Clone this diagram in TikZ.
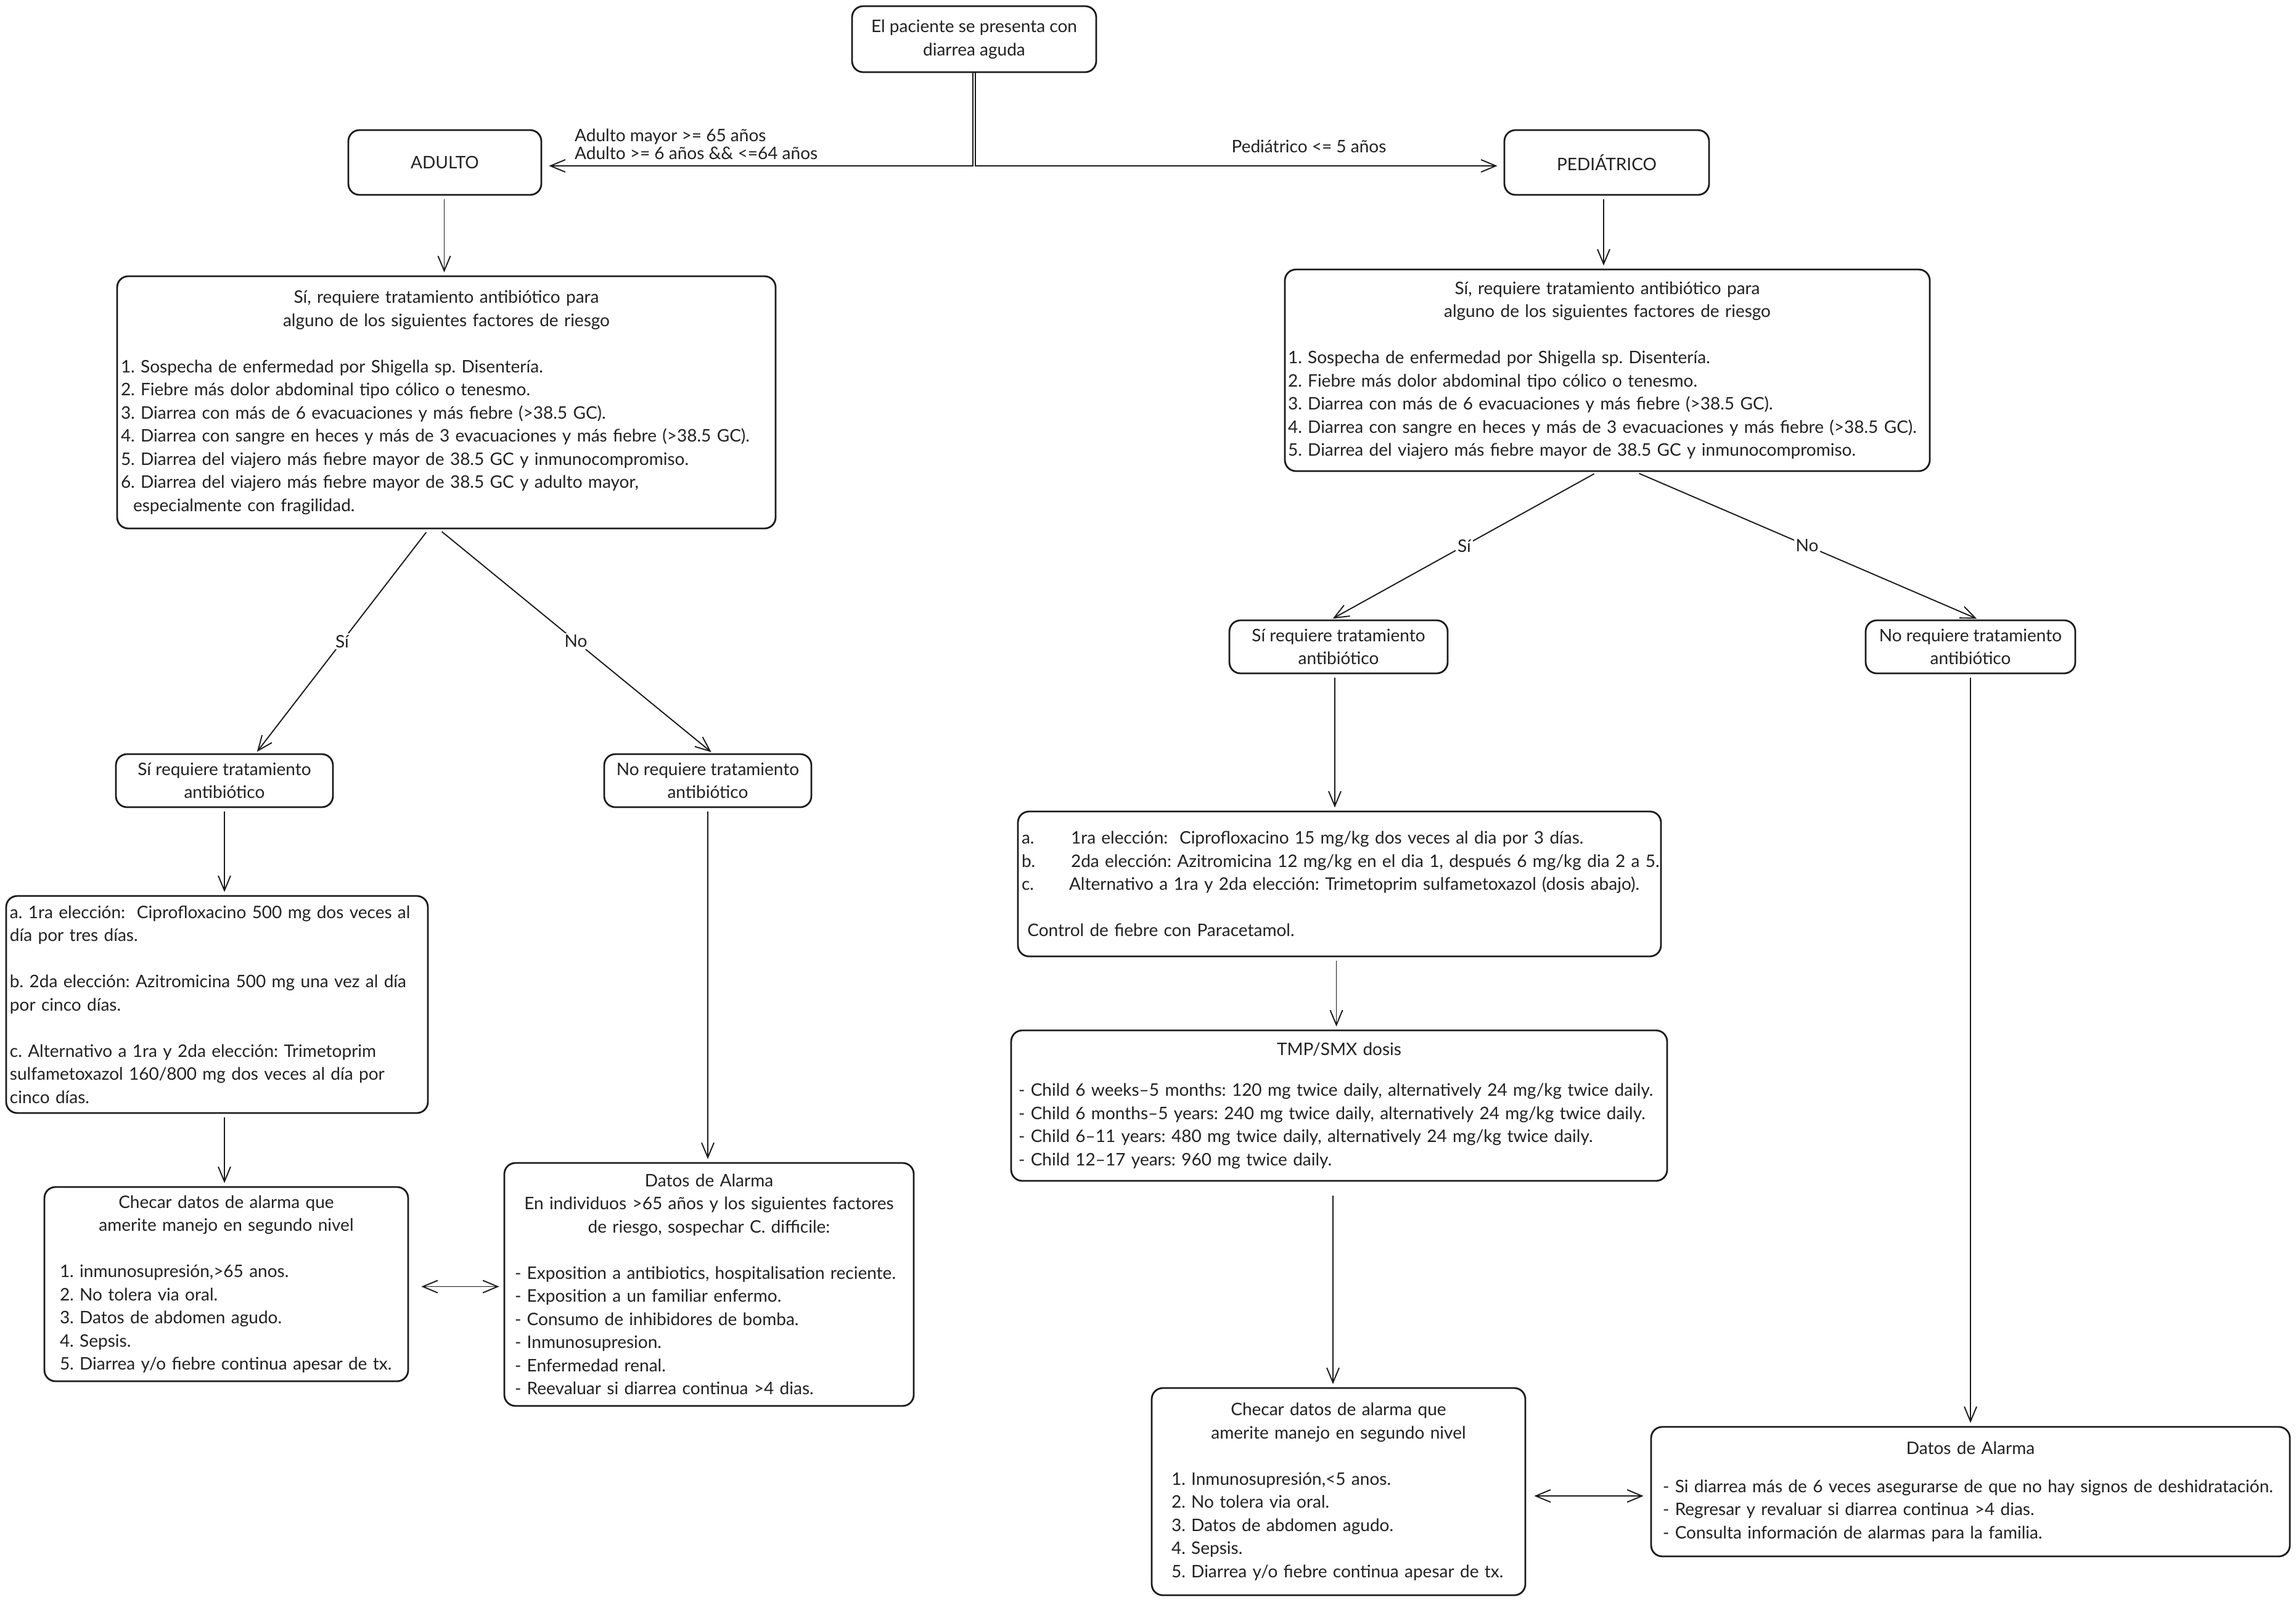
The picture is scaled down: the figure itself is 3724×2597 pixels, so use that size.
\documentclass[tikz,border=0pt]{standalone}
\usepackage{fontspec}
\setmainfont{Lato}
\usetikzlibrary{arrows.meta}
\definecolor{txt}{HTML}{222222}
\definecolor{ln}{HTML}{1A1A1A}
\newcommand\myfs{\fontsize{28pt}{37.5pt}\selectfont\frenchspacing}
\newcommand\Lft[1]{\makebox[\linewidth][l]{#1}}
\newcommand\Ctr[1]{\makebox[\linewidth][c]{#1}}
\frenchspacing
\begin{document}
\begin{tikzpicture}[x=1pt,y=-1pt,
 bx/.style={draw=ln, line width=2.8pt, rounded corners=18pt, font=\myfs, text=txt, inner ysep=0pt},
 tb/.style={bx, align=left},
 sb/.style={bx, align=center, inner xsep=0pt},
 tip/.tip={Straight Barb[length=24pt,width=20pt]},
 conn/.style={draw=ln, line width=1.9pt, -tip, shorten <=6pt, shorten >=5pt},
 dconn/.style={draw=ln, line width=1.9pt, tip-tip},
 lbl/.style={font=\myfs, text=txt, fill=white, inner sep=3pt},
]
\useasboundingbox (0,0) rectangle (3724,2597);
\fill[white] (0,0) rectangle (3724,2597);

% ---------- top ----------
\node[sb, minimum width=396pt, minimum height=107pt] (top) at (1580,63.5) {El paciente se presenta con\\diarrea aguda};
\node[sb, minimum width=313pt, minimum height=105pt] (adulto) at (721.5,263.5) {ADULTO};
\node[sb, minimum width=332pt, minimum height=105pt] (ped) at (2606,263.5) {PEDIÁTRICO};

\node[lbl, fill=none, align=left, anchor=west, inner sep=0pt, font=\fontsize{28pt}{28.5pt}\selectfont\frenchspacing] (lblA) at (932,234) {Adulto mayor >= 65 años\\Adulto >= 6 años \&\& <=64 años};
\node[lbl, fill=none, inner sep=0pt] (lblP) at (2123,237) {Pediátrico <= 5 años};

% ---------- adult branch ----------
\node[tb, minimum height=409pt, text width=1056pt, inner xsep=6pt] (bigL) at (724,652.5) {%
\Ctr{Sí, requiere tratamiento antibiótico para}\\
\Ctr{alguno de los siguientes factores de riesgo}\\
\Lft{}\\
\Lft{1. Sospecha de enfermedad por Shigella sp. Disentería.}\\
\Lft{2. Fiebre más dolor abdominal tipo cólico o tenesmo.}\\
\Lft{3. Diarrea con más de 6 evacuaciones y más fiebre (>38.5 GC).}\\
\Lft{4. Diarrea con sangre en heces y más de 3 evacuaciones y más fiebre (>38.5 GC).}\\
\Lft{5. Diarrea del viajero más fiebre mayor de 38.5 GC y inmunocompromiso.}\\
\Lft{6. Diarrea del viajero más fiebre mayor de 38.5 GC y adulto mayor,}\\
\Lft{\hspace*{20pt}especialmente con fragilidad.}};

\node[sb, minimum width=352pt, minimum height=86pt] (siL) at (364,1266) {Sí requiere tratamiento\\antibiótico};
\node[sb, minimum width=336pt, minimum height=86pt] (noL) at (1148,1266) {No requiere tratamiento\\antibiótico};

\node[tb, minimum height=352pt, text width=672pt, inner xsep=6pt] (treatL) at (352,1629) {%
\Lft{a. 1ra elección:\ \ Ciprofloxacino 500 mg dos veces al}\\
\Lft{día por tres días.}\\
\Lft{}\\
\Lft{b. 2da elección: Azitromicina 500 mg una vez al día}\\
\Lft{por cinco días.}\\
\Lft{}\\
\Lft{c. Alternativo a 1ra y 2da elección: Trimetoprim}\\
\Lft{sulfametoxazol 160/800 mg dos veces al día por}\\
\Lft{cinco días.}};

\node[tb, minimum height=315pt, text width=540pt, inner xsep=25pt] (checkL) at (367,2082.5) {%
\Ctr{Checar datos de alarma que}\\
\Ctr{amerite manejo en segundo nivel}\\
\Lft{}\\
\Lft{1. inmunosupresión,>65 anos.}\\
\Lft{2. No tolera via oral.}\\
\Lft{3. Datos de abdomen agudo.}\\
\Lft{4. Sepsis.}\\
\Lft{5. Diarrea y/o fiebre continua apesar de tx.}};

\node[tb, minimum height=394pt, text width=630pt, inner xsep=17pt] (alarmL) at (1150,2083) {%
\Ctr{Datos de Alarma}\\
\Ctr{En individuos >65 años y los siguientes factores}\\
\Ctr{de riesgo, sospechar C. difficile:}\\
\Lft{}\\
\Lft{- Exposition a antibiotics, hospitalisation reciente.}\\
\Lft{- Exposition a un familiar enfermo.}\\
\Lft{- Consumo de inhibidores de bomba.}\\
\Lft{- Inmunosupresion.}\\
\Lft{- Enfermedad renal.}\\
\Lft{- Reevaluar si diarrea continua >4 dias.}};

% ---------- pediatric branch ----------
\node[tb, minimum height=327pt, text width=1036pt, inner xsep=5pt] (bigR) at (2607,600.5) {%
\Ctr{Sí, requiere tratamiento antibiótico para}\\
\Ctr{alguno de los siguientes factores de riesgo}\\
\Lft{}\\
\Lft{1. Sospecha de enfermedad por Shigella sp. Disentería.}\\
\Lft{2. Fiebre más dolor abdominal tipo cólico o tenesmo.}\\
\Lft{3. Diarrea con más de 6 evacuaciones y más fiebre (>38.5 GC).}\\
\Lft{4. Diarrea con sangre en heces y más de 3 evacuaciones y más fiebre (>38.5 GC).}\\
\Lft{5. Diarrea del viajero más fiebre mayor de 38.5 GC y inmunocompromiso.}};

\node[sb, minimum width=354pt, minimum height=86pt] (siR) at (2171,1049) {Sí requiere tratamiento\\antibiótico};
\node[sb, minimum width=340pt, minimum height=86pt] (noR) at (3196,1049) {No requiere tratamiento\\antibiótico};

\node[tb, minimum height=235pt, text width=1031pt, inner xsep=6pt] (treatR) at (2172.5,1433.5) {%
\Lft{\makebox[80pt][l]{a.}1ra elección:\ \ Ciprofloxacino 15 mg/kg dos veces al dia por 3 días.}\\
\Lft{\makebox[80pt][l]{b.}2da elección: Azitromicina 12 mg/kg en el dia 1, después 6 mg/kg dia 2 a 5.}\\
\Lft{\makebox[77pt][l]{c.}Alternativo a 1ra y 2da elección: Trimetoprim sulfametoxazol (dosis abajo).}\\
\Lft{}\\
\Lft{\ Control de fiebre con Paracetamol.}};

\node[tb, minimum height=244pt, text width=1040pt, inner xsep=12pt] (tmp) at (2172,1793) {%
\Ctr{TMP/SMX dosis}\\[28.5pt]
\Lft{- Child 6 weeks–5 months: 120 mg twice daily, alternatively 24 mg/kg twice daily.}\\
\Lft{- Child 6 months–5 years: 240 mg twice daily, alternatively 24 mg/kg twice daily.}\\
\Lft{- Child 6–11 years: 480 mg twice daily, alternatively 24 mg/kg twice daily.}\\
\Lft{- Child 12–17 years: 960 mg twice daily.}};

\node[tb, minimum height=336pt, text width=542pt, inner xsep=32pt] (checkR) at (2171,2419) {%
\Ctr{Checar datos de alarma que}\\
\Ctr{amerite manejo en segundo nivel}\\
\Lft{}\\
\Lft{1. Inmunosupresión,<5 anos.}\\
\Lft{2. No tolera via oral.}\\
\Lft{3. Datos de abdomen agudo.}\\
\Lft{4. Sepsis.}\\
\Lft{5. Diarrea y/o fiebre continua apesar de tx.}};

\node[tb, minimum height=210pt, text width=998pt, inner xsep=19pt] (alarmR) at (3196,2419) {%
\Ctr{Datos de Alarma}\\[24.5pt]
\Lft{- Si diarrea más de 6 veces asegurarse de que no hay signos de deshidratación.}\\
\Lft{- Regresar y revaluar si diarrea continua >4 dias.}\\
\Lft{- Consulta información de alarmas para la familia.}};

% ---------- connectors ----------
\draw[conn, shorten <=0pt, shorten >=11pt] ([xshift=-2pt]top.south) |- ([yshift=-5.5pt]adulto.east);
\draw[conn, shorten <=0pt, shorten >=10pt] ([xshift=2pt]top.south) |- ([yshift=-5.5pt]ped.west);

\draw[conn] ([xshift=-1pt]adulto.south) -- ([xshift=-1pt]adulto.south |- bigL.north);
\draw[conn] ([xshift=-5pt]ped.south) -- ([xshift=-5pt]ped.south |- bigR.north);

\draw[conn, shorten >=3pt] ([xshift=-29pt]bigL.south) -- node[lbl]{Sí} ([xshift=51pt]siL.north);
\draw[conn, shorten >=3pt] ([xshift=-12pt]bigL.south) -- node[lbl]{No} ([xshift=8pt]noL.north);
\draw[conn, shorten >=3pt] ([xshift=-16pt]bigR.south) -- node[lbl]{Sí} ([xshift=-12pt]siR.north);
\draw[conn, shorten >=3pt] ([xshift=46pt]bigR.south) -- node[lbl]{No} ([xshift=13pt]noR.north);

\draw[conn] (siL.south) -- (siL.south |- treatL.north);
\draw[conn] ([xshift=-3pt]checkL.north |- treatL.south) -- ([xshift=-3pt]checkL.north);
\draw[conn] (noL.south) -- (noL.south |- alarmL.north);
\draw[dconn, shorten <=20pt, shorten >=7pt] ([yshift=-4pt]checkL.east) -- ([yshift=-4pt]checkL.east -| alarmL.west);

\draw[conn] ([xshift=-6pt]siR.south) -- ([xshift=-6pt]siR.south |- treatR.north);
\draw[conn] ([xshift=-5pt]treatR.south) -- ([xshift=-5pt]treatR.south |- tmp.north);
\draw[conn, shorten <=23pt] ([xshift=-10pt]tmp.south) -- ([xshift=-10pt]tmp.south |- checkR.north);
\draw[conn] (noR.south) -- (noR.south |- alarmR.north);
\draw[dconn, shorten <=13pt, shorten >=11pt] ([yshift=-7pt]checkR.east) -- ([yshift=-7pt]checkR.east -| alarmR.west);
\end{tikzpicture}
\end{document}
